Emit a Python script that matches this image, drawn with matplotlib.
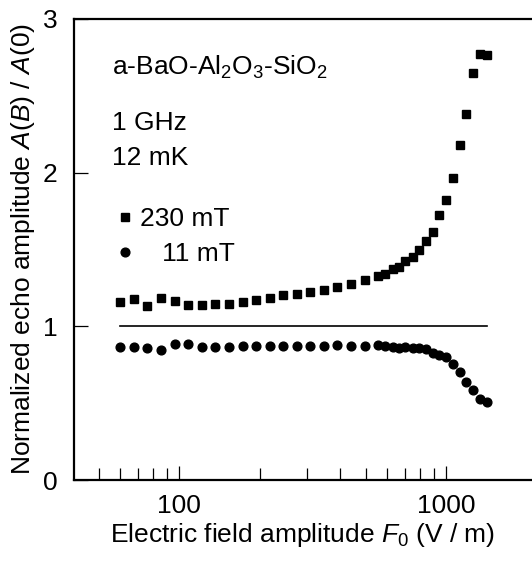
import matplotlib
matplotlib.use("Agg")
import matplotlib.pyplot as plt
from matplotlib.ticker import NullFormatter, FixedLocator, FixedFormatter
from matplotlib.lines import Line2D

plt.rcParams['font.family'] = ['Liberation Sans', 'DejaVu Sans']
plt.rcParams['mathtext.fontset'] = 'custom'
plt.rcParams['mathtext.rm'] = 'Liberation Sans'
plt.rcParams['mathtext.it'] = 'Liberation Sans:italic'
plt.rcParams['mathtext.bf'] = 'Liberation Sans:bold'

# Data
field = [60, 67.8, 76, 85.6, 96.6, 108, 122, 136, 154, 173, 194, 219, 245, 276,
         310, 350, 391, 442, 495, 556, 592, 631, 666, 704, 749, 795, 843, 890,
         945, 1001, 1065, 1128, 1193, 1265, 1343, 1430]
amp_230mT = [1.156, 1.176, 1.130, 1.182, 1.163, 1.137, 1.139, 1.145, 1.145, 1.158,
             1.169, 1.186, 1.204, 1.212, 1.223, 1.234, 1.254, 1.273, 1.299, 1.325,
             1.342, 1.371, 1.384, 1.425, 1.449, 1.494, 1.553, 1.612, 1.722, 1.820,
             1.963, 2.178, 2.379, 2.646, 2.770, 2.763]
amp_11mT = [0.867, 0.867, 0.857, 0.846, 0.883, 0.883, 0.867, 0.863, 0.863, 0.874,
            0.872, 0.872, 0.872, 0.870, 0.874, 0.874, 0.878, 0.874, 0.874, 0.878,
            0.870, 0.867, 0.859, 0.863, 0.859, 0.857, 0.852, 0.828, 0.815, 0.798,
            0.753, 0.701, 0.636, 0.586, 0.525, 0.510]
ref_x = [60, 1430]
ref_y = [1, 1]
labels = ["230 mT", "   11 mT"]
xtick_vals = [100, 1000]
xtick_labels = ["100", "1000"]
xminor_vals = [50, 60, 70, 80, 90, 200, 300, 400, 500, 600, 700, 800, 900]
ytick_vals = [0, 1, 2, 3]
ytick_labels = ["0", "1", "2", "3"]

FS = 19
W, H = 532, 561
fig = plt.figure(figsize=(W / 100, H / 100), dpi=100)
left, right, bottom, top = 74, 532, 480, 19
ax = fig.add_axes([left / W, 1 - bottom / H, (right - left) / W, (bottom - top) / H])

ax.plot(ref_x, ref_y, color='black', lw=1.2, zorder=1)
ax.plot(field, amp_230mT, ls='none', marker='s', ms=6.3, color='black', zorder=3)
ax.plot(field, amp_11mT, ls='none', marker='o', ms=6.3, color='black', zorder=3)

ax.set_xscale('log')
ax.set_xlim(40.3, 2100)
ax.set_ylim(0, 3)

ax.xaxis.set_major_locator(FixedLocator(xtick_vals))
ax.xaxis.set_major_formatter(FixedFormatter(xtick_labels))
ax.xaxis.set_minor_locator(FixedLocator(xminor_vals))
ax.xaxis.set_minor_formatter(NullFormatter())
ax.yaxis.set_major_locator(FixedLocator(ytick_vals))
ax.yaxis.set_major_formatter(FixedFormatter(ytick_labels))

for s in ['left', 'bottom', 'top']:
    ax.spines[s].set_linewidth(1.6)
ax.spines['right'].set_visible(False)

ax.tick_params(axis='both', which='major', direction='in', length=10, width=0.9,
               labelsize=FS, top=False, right=False)
ax.tick_params(axis='x', which='minor', direction='in', length=8.5, width=0.9,
               top=False)
ax.tick_params(axis='x', which='major', pad=10)
ax.tick_params(axis='y', which='major', pad=12)

ax.set_xlabel("Electric field amplitude $F_0$ (V / m)", fontsize=FS, labelpad=2)
ax.set_ylabel(r"Normalized echo amplitude $\mathit{A(B)}$ / $\mathit{A(0)}$",
              fontsize=FS, labelpad=4)

fig.text(112 / W, 1 - 75 / H, "a-BaO-Al$_2$O$_3$-SiO$_2$", fontsize=FS, va='baseline')
fig.text(112 / W, 1 - 130 / H, "1 GHz", fontsize=FS, va='baseline')
fig.text(112 / W, 1 - 165 / H, "12 mK", fontsize=FS, va='baseline')

handles = [Line2D([], [], ls='none', marker='s', ms=6.3, color='black'),
           Line2D([], [], ls='none', marker='o', ms=6.3, color='black')]
leg = ax.legend(handles, labels, loc='upper left', frameon=False, fontsize=FS,
                bbox_to_anchor=(117 / W, 1 - 207 / H), bbox_transform=fig.transFigure,
                handlelength=0.6, handletextpad=0.27, labelspacing=0.42,
                borderpad=0, borderaxespad=0)

fig.savefig("out.png", dpi=100)
